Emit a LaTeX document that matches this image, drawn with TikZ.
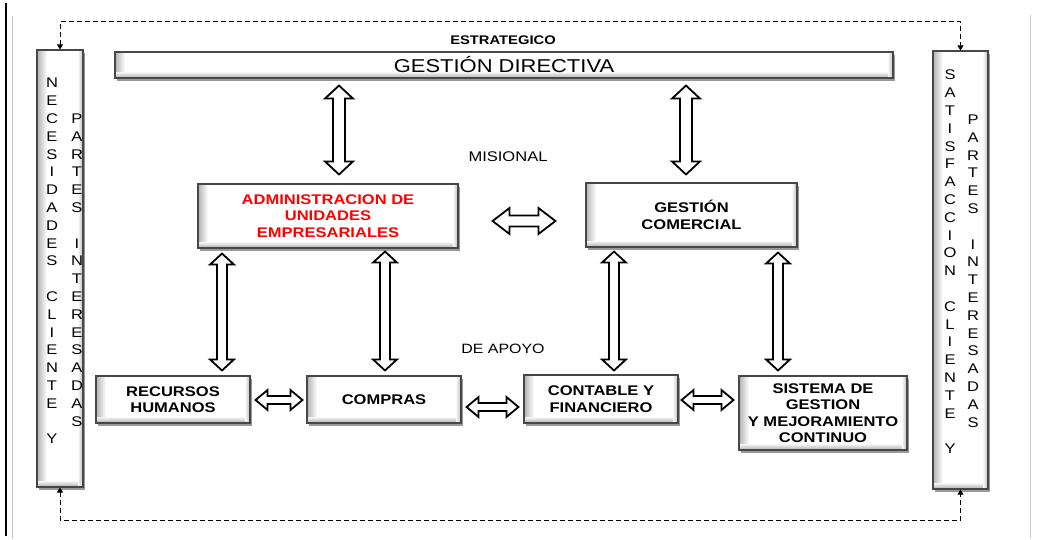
\documentclass[tikz,border=0pt]{standalone}
\usepackage{fontspec}
\setmainfont{Liberation Sans}[FakeStretch=1.18]
\usetikzlibrary{calc,shadows,arrows.meta}

\tikzset{
  % bevelled process box: soft darker edges on the left, bottom and right
  bevel/.style={path picture={
    \foreach \i in {0,...,9}{
      \pgfmathtruncatemacro\shadeval{30-3*\i}
      \fill[black!\shadeval]
        ([xshift=\i pt]path picture bounding box.south west) rectangle
        ([xshift=\i pt+1.2pt]path picture bounding box.north west);
    }
    \foreach \i in {0,...,5}{
      \pgfmathtruncatemacro\shadeval{28-5*\i}
      \fill[black!\shadeval]
        ([yshift=\i pt]path picture bounding box.south west) rectangle
        ([yshift=\i pt+1.2pt]path picture bounding box.south east);
    }
    \foreach \i in {0,...,4}{
      \pgfmathtruncatemacro\shadeval{22-5*\i}
      \fill[black!\shadeval]
        ([xshift=-\i pt]path picture bounding box.south east) rectangle
        ([xshift=-\i pt-1.2pt]path picture bounding box.north east);
    }
  }},
  box/.style={rectangle, draw=black!72, line width=1.1pt, fill=white, inner sep=0pt,
    align=center, bevel,
    drop shadow={shadow xshift=2pt, shadow yshift=-2.5pt, opacity=0.4, fill=black},
    font=\fontsize{14}{16.5}\selectfont\bfseries},
  column/.style={inner sep=0pt, align=center, font=\fontsize{14}{17.8}\selectfont},
  level/.style={inner sep=0pt, font=\fontsize{14}{16}\selectfont},
  dashline/.style={line width=1pt, dash pattern=on 5pt off 3pt,
    {Triangle[length=5pt,width=6pt]}-{Triangle[length=5pt,width=6pt]}},
  % hollow two-headed block arrow: shaft half-width / head half-width / head length
  dblarrow/.style args={#1/#2/#3}{
    draw=black, line width=1.8pt, fill=white, line join=miter,
    to path={
      let \p1=(\tikztostart), \p2=(\tikztotarget),
          \n1={veclen(\x2-\x1,\y2-\y1)},
          \n2={(\x2-\x1)/\n1}, \n3={(\y2-\y1)/\n1}
      in
      -- ({\x1+#3*\n2-#2*\n3},{\y1+#3*\n3+#2*\n2})
      -- ({\x1+#3*\n2-#1*\n3},{\y1+#3*\n3+#1*\n2})
      -- ({\x2-#3*\n2-#1*\n3},{\y2-#3*\n3+#1*\n2})
      -- ({\x2-#3*\n2-#2*\n3},{\y2-#3*\n3+#2*\n2})
      -- (\x2,\y2)
      -- ({\x2-#3*\n2+#2*\n3},{\y2-#3*\n3-#2*\n2})
      -- ({\x2-#3*\n2+#1*\n3},{\y2-#3*\n3-#1*\n2})
      -- ({\x1+#3*\n2+#1*\n3},{\y1+#3*\n3-#1*\n2})
      -- ({\x1+#3*\n2+#2*\n3},{\y1+#3*\n3-#2*\n2})
      -- cycle
    }
  }
}

\begin{document}
\begin{tikzpicture}[x=1pt, y=-1pt]
  \useasboundingbox[fill=white] (0,0) rectangle (1038,539);

  % page rules
  \draw[line width=1.5pt] (6,3) -- (6,536);
  \draw[black!22, line width=1pt] (12,16) -- (12,539);
  \draw[black!18, line width=1pt] (1030,15) -- (1030,539);

  % side columns
  \node[box, minimum width=46pt, minimum height=437pt] (lft) at (60,268.5) {};
  \node[box, minimum width=55pt, minimum height=438pt] (rgt) at (960.5,270) {};
  \node[column] (lftA) at ($(lft.center)+(-8,-7.5)$)
    {N\\E\\C\\E\\S\\I\\D\\A\\D\\E\\S\\~\\C\\L\\I\\E\\N\\T\\E\\~\\Y};
  \node[column] (lftB) at ($(lft.center)+(17,1.5)$)
    {P\\A\\R\\T\\E\\S\\~\\I\\N\\T\\E\\R\\E\\S\\A\\D\\A\\S};
  \node[column] (rgtA) at ($(rgt.center)+(-10.5,-8)$)
    {S\\A\\T\\I\\S\\F\\A\\C\\C\\I\\O\\N\\~\\C\\L\\I\\E\\N\\T\\E\\~\\Y};
  \node[column] (rgtB) at ($(rgt.center)+(12.5,1)$)
    {P\\A\\R\\T\\E\\S\\~\\I\\N\\T\\E\\R\\E\\S\\A\\D\\A\\S};

  % level labels
  \node[level, font=\fontsize{12.5}{14}\selectfont\bfseries] (lvA) at (503,40) {ESTRATEGICO};
  \node[level] (lvB) at (508,157) {MISIONAL};
  \node[level, font=\fontsize{13.5}{15}\selectfont] (lvC) at (503,349) {DE APOYO};

  % process boxes
  \node[box, minimum width=778pt, minimum height=26pt,
        font=\fontsize{18.6}{20}\selectfont] (dir) at (504,65) {GESTIÓN DIRECTIVA};
  \node[box, minimum width=260pt, minimum height=64pt, text=red] (adm) at (328,216)
    {ADMINISTRACION DE\\UNIDADES\\EMPRESARIALES};
  \node[box, minimum width=211pt, minimum height=64pt] (com) at (691.5,215)
    {GESTIÓN\\COMERCIAL};
  \node[box, minimum width=154pt, minimum height=47pt] (rh) at (173,399.5)
    {RECURSOS\\HUMANOS};
  \node[box, minimum width=154pt, minimum height=47pt] (cmp) at (384,399.5) {COMPRAS};
  \node[box, minimum width=154pt, minimum height=48pt] (con) at (601,399)
    {CONTABLE Y\\FINANCIERO};
  \node[box, minimum width=168pt, minimum height=74pt] (sis) at (823,413)
    {SISTEMA DE\\GESTION\\Y MEJORAMIENTO\\CONTINUO};

  % feedback loop between the side columns
  \draw[dashline] (lft.north) -- ++(0,-28) -| (rgt.north);
  \draw[dashline] (lft.south) -- ++(0,33) -| (rgt.south);

  % strategic <-> missional
  \draw[dblarrow=6/14/13] ($(dir.south)+(-165,7)$) to ($(adm.north)+(11,-9)$);
  \draw[dblarrow=6/14/13] ($(dir.south)+(182,7)$) to ($(com.north)+(-5.5,-8)$);
  \draw[dblarrow=5.5/13/17] ($(adm.east)+(34,5)$) to ($(com.west)+(-30,6)$);

  % missional <-> support
  \draw[dblarrow=5/12/11] ($(adm.south)+(-106,5)$) to ($(rh.north)+(49,-5)$);
  \draw[dblarrow=5/12/11] ($(adm.south)+(57,3)$) to ($(cmp.north)+(1,-5)$);
  \draw[dblarrow=5/12/11] ($(com.south)+(-77.5,4)$) to ($(con.north)+(13,-4)$);
  \draw[dblarrow=5/12/11] ($(com.south)+(86.5,5)$) to ($(sis.north)+(-45,-5)$);

  % support <-> support
  \draw[dblarrow=4/10/12] ($(rh.east)+(5,0.5)$) to ($(cmp.west)+(-4,0.5)$);
  \draw[dblarrow=4/10/12] ($(cmp.east)+(5,7.5)$) to ($(con.west)+(-5,8)$);
  \draw[dblarrow=4/10/12] ($(con.east)+(3,1)$) to ($(sis.west)+(-5,-13)$);
\end{tikzpicture}
\end{document}
